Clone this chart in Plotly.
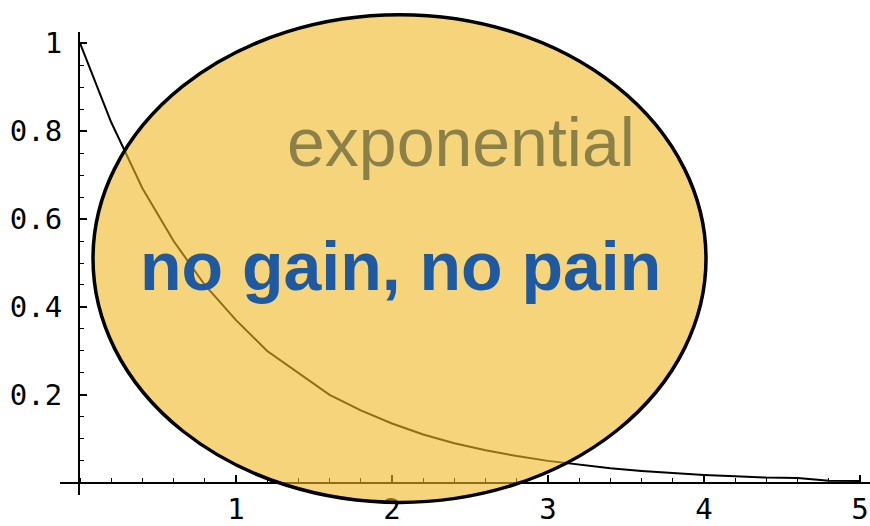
import plotly.graph_objects as go

# Decay curve samples (x, y)
x_vals = [0.0, 0.2, 0.4, 0.6, 0.8, 1.0, 1.2, 1.4, 1.6, 1.8, 2.0, 2.2, 2.4,
          2.6, 2.8, 3.0, 3.2, 3.4, 3.6, 3.8, 4.0, 4.2, 4.4, 4.6, 4.8, 5.0]
y_vals = [1.00, 0.82, 0.67, 0.55, 0.45, 0.37, 0.30, 0.25, 0.20, 0.165, 0.135,
          0.11, 0.09, 0.074, 0.061, 0.05, 0.041, 0.033, 0.027, 0.022, 0.018,
          0.015, 0.012, 0.011, 0.005, 0.004]

x_ticks = [1, 2, 3, 4, 5]
x_tick_text = ["1", "2", "3", "4", "5"]
y_ticks = [0.2, 0.4, 0.6, 0.8, 1.0]
y_tick_text = ["0.2", "0.4", "0.6", "0.8", "1"]

title_word = "exponential"
slogan = "no gain, no pain"

W, H = 870, 526

fig = go.Figure()
fig.add_trace(go.Scatter(x=x_vals, y=y_vals, mode="lines",
                         line=dict(color="black", width=2),
                         hoverinfo="skip", showlegend=False))

tick_font = dict(family="DejaVu Sans Mono", size=29, color="black")

fig.update_layout(
    width=W, height=H,
    margin=dict(l=0, r=0, t=0, b=0),
    paper_bgcolor="white", plot_bgcolor="white",
    showlegend=False,
    xaxis=dict(
        domain=[60 / W, 1.0],
        range=[(60 - 80) / 156, (870 - 80) / 156],
        anchor="free", position=(H - 488) / H,
        showgrid=False, zeroline=False,
        showline=True, linecolor="black", linewidth=2,
        tickmode="array", tickvals=x_ticks, ticktext=x_tick_text,
        ticks="inside", ticklen=7, tickwidth=1.5, tickcolor="black",
        tickfont=tick_font,
        minor=dict(tickmode="linear", tick0=0, dtick=0.2, ticks="inside",
                   ticklen=4, tickwidth=1.2, tickcolor="black"),
    ),
    yaxis=dict(
        domain=[(H - 500) / H, (H - 27) / H],
        range=[(488 - 500) / 450, (488 - 27) / 450],
        anchor="free", position=79 / W,
        showgrid=False, zeroline=False,
        showline=True, linecolor="black", linewidth=2,
        tickmode="array", tickvals=y_ticks, ticktext=y_tick_text,
        ticks="inside", ticklen=7, tickwidth=1.5, tickcolor="black",
        tickfont=tick_font,
        ticklabelstandoff=10,
        minor=dict(tickmode="linear", tick0=0, dtick=0.05, ticks="inside",
                   ticklen=4, tickwidth=1.2, tickcolor="black"),
    ),
)

# Translucent ellipse laid over the curve
fig.add_shape(type="circle", xref="paper", yref="paper",
              x0=93 / W, x1=706 / W, y0=(H - 508) / H, y1=(H - 9) / H,
              fillcolor="rgba(240,183,37,0.6)",
              line=dict(color="black", width=3.5), layer="above")

fig.add_annotation(text=title_word, xref="paper", yref="paper",
                   x=461 / W, y=(H - 139) / H, showarrow=False,
                   xanchor="center", yanchor="middle",
                   font=dict(family="Liberation Sans", size=68,
                             color="rgb(138,128,72)"))
fig.add_annotation(text=f"<b>{slogan}</b>", xref="paper", yref="paper",
                   x=400 / W, y=(H - 266) / H, showarrow=False,
                   xanchor="center", yanchor="middle",
                   font=dict(family="Liberation Sans", size=68,
                             color="rgb(31,90,160)"))

fig.write_html("out.html")
